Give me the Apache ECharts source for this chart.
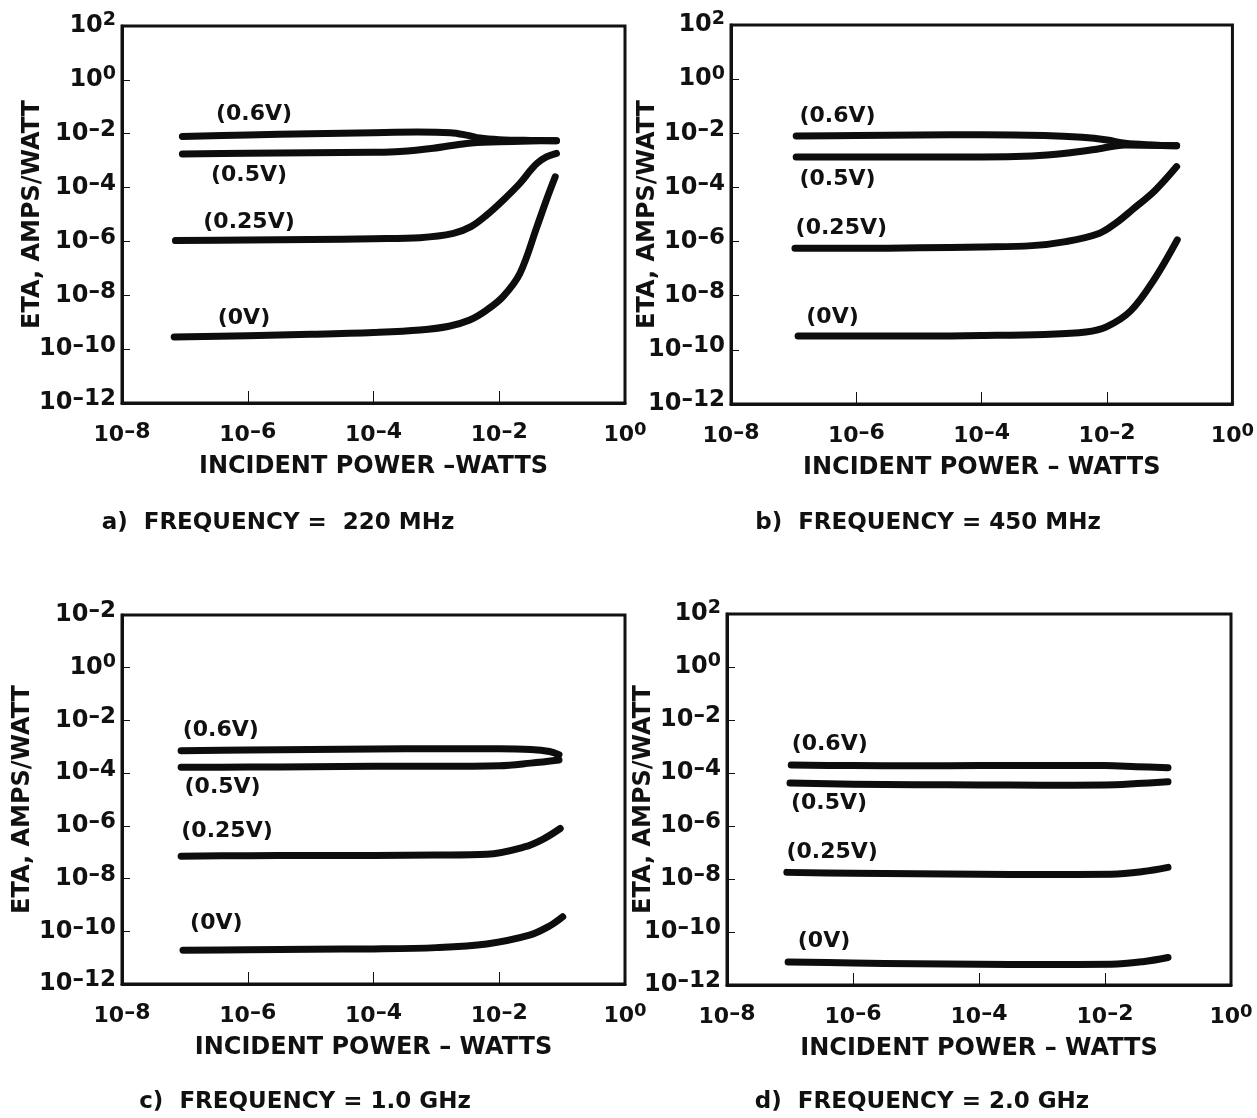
<!DOCTYPE html>
<html>
<head>
<meta charset="utf-8">
<script src="https://cdn.jsdelivr.net/npm/echarts@6/dist/echarts.min.js"></script>
<style>
  html, body { margin: 0; padding: 0; background: #fff; }
  #chart { width: 1257px; height: 1118px; }
</style>
</head>
<body>
<div id="chart"></div>
<script>
// values are log10 of the axes: [log10 incident power, log10 ETA]
var curveNames = ['(0.6V)', '(0.5V)', '(0.25V)', '(0V)'];

// a) 220 MHz
var a06 = [[-7.04,-2.1],[-6.0,-2.05],[-5.0,-2.0],[-4.0,-1.96],[-3.3,-1.94],[-2.78,-1.96],[-2.5,-2.06],[-2.31,-2.16],[-2.0,-2.22],[-1.5,-2.25],[-1.09,-2.26]];
var a05 = [[-7.04,-2.75],[-6.0,-2.73],[-5.0,-2.71],[-4.0,-2.69],[-3.58,-2.66],[-3.05,-2.54],[-2.52,-2.36],[-2.0,-2.3],[-1.5,-2.27],[-1.09,-2.26]];
var a025 = [[-7.15,-5.97],[-6.0,-5.95],[-5.0,-5.93],[-4.0,-5.9],[-3.26,-5.86],[-2.73,-5.7],[-2.45,-5.45],[-2.2,-5.02],[-1.93,-4.45],[-1.67,-3.84],[-1.5,-3.35],[-1.4,-3.1],[-1.25,-2.86],[-1.09,-2.73]];
var a0 = [[-7.17,-9.55],[-6.0,-9.5],[-5.0,-9.45],[-4.0,-9.38],[-3.26,-9.29],[-2.8,-9.15],[-2.47,-8.92],[-2.2,-8.55],[-1.94,-8.05],[-1.67,-7.18],[-1.4,-5.45],[-1.25,-4.46],[-1.11,-3.6]];

// b) 450 MHz
var b06 = [[-6.96,-2.1],[-6.0,-2.08],[-5.0,-2.06],[-4.0,-2.05],[-3.0,-2.08],[-2.4,-2.15],[-2.0,-2.25],[-1.71,-2.37],[-1.3,-2.43],[-0.89,-2.46]];
var b05 = [[-6.96,-2.88],[-6.0,-2.88],[-5.0,-2.88],[-4.0,-2.88],[-3.2,-2.84],[-2.66,-2.74],[-2.2,-2.6],[-1.71,-2.43],[-1.3,-2.44],[-0.89,-2.46]];
var b025 = [[-6.98,-6.25],[-6.0,-6.25],[-5.0,-6.23],[-4.0,-6.2],[-3.2,-6.15],[-2.66,-6.0],[-2.13,-5.7],[-1.85,-5.3],[-1.6,-4.83],[-1.23,-4.1],[-0.89,-3.23]];
var b0 = [[-6.93,-9.49],[-6.0,-9.49],[-5.0,-9.49],[-4.0,-9.47],[-3.0,-9.43],[-2.34,-9.34],[-2.01,-9.15],[-1.62,-8.55],[-1.24,-7.37],[-0.88,-5.94]];

// c) 1.0 GHz
var c06 = [[-7.06,-3.15],[-6.0,-3.12],[-5.0,-3.1],[-4.0,-3.08],[-3.0,-3.07],[-2.0,-3.07],[-1.5,-3.1],[-1.2,-3.18],[-1.05,-3.3]];
var c05 = [[-7.06,-3.78],[-6.0,-3.77],[-5.0,-3.76],[-4.0,-3.74],[-3.0,-3.74],[-2.0,-3.72],[-1.5,-3.62],[-1.05,-3.5]];
var c025 = [[-7.06,-7.15],[-6.0,-7.13],[-5.0,-7.12],[-4.0,-7.12],[-3.0,-7.11],[-2.2,-7.08],[-1.6,-6.8],[-1.3,-6.5],[-1.03,-6.1]];
var c0 = [[-7.03,-10.72],[-6.0,-10.7],[-5.0,-10.68],[-4.0,-10.67],[-3.0,-10.62],[-2.2,-10.48],[-1.52,-10.15],[-1.2,-9.8],[-0.99,-9.45]];

// d) 2.0 GHz
var d06 = [[-6.98,-3.7],[-6.0,-3.72],[-5.0,-3.73],[-4.0,-3.72],[-3.0,-3.72],[-2.0,-3.72],[-1.5,-3.76],[-1.0,-3.8]];
var d05 = [[-7.0,-4.38],[-6.0,-4.42],[-5.0,-4.44],[-4.0,-4.45],[-3.0,-4.46],[-2.0,-4.45],[-1.5,-4.4],[-1.0,-4.33]];
var d025 = [[-7.05,-7.75],[-6.0,-7.78],[-5.0,-7.8],[-4.0,-7.82],[-3.0,-7.83],[-1.9,-7.82],[-1.4,-7.72],[-1.0,-7.56]];
var d0 = [[-7.03,-11.13],[-6.0,-11.17],[-5.0,-11.2],[-4.0,-11.22],[-3.0,-11.23],[-1.9,-11.22],[-1.4,-11.12],[-1.0,-10.96]];

// tick label exponents (panel c top label is printed 10-2 in the original)
var xTickExp = ['–8', '–6', '–4', '–2', '0'];
var yTickExp = ['–12', '–10', '–8', '–6', '–4', '–2', '0', '2'];
var yTickExpC = ['–12', '–10', '–8', '–6', '–4', '–2', '0', '–2'];

var captions = ['a)  FREQUENCY =  220 MHz', 'b)  FREQUENCY = 450 MHz', 'c)  FREQUENCY = 1.0 GHz', 'd)  FREQUENCY = 2.0 GHz'];
var xNames = ['INCIDENT POWER –WATTS', 'INCIDENT POWER – WATTS', 'INCIDENT POWER – WATTS', 'INCIDENT POWER – WATTS'];
var yName = 'ETA, AMPS/WATT';

// where the curve labels sit, in axis units
var labelPosA = [[-5.9,-1.27],[-5.98,-3.55],[-5.98,-5.28],[-6.06,-8.87]];
var labelPosB = [[-6.3,-1.39],[-6.3,-3.7],[-6.24,-5.5],[-6.38,-8.8]];
var labelPosC = [[-6.43,-2.36],[-6.4,-4.52],[-6.33,-6.2],[-6.5,-9.7]];
var labelPosD = [[-6.37,-2.9],[-6.38,-5.13],[-6.33,-6.98],[-6.46,-10.34]];

var FONT = 'DejaVu Sans';
var INK = '#111';
var panels = [
  { rect: {left: 122, top: 26, width: 503, height: 377}, curves: [a06, a05, a025, a0], yExp: yTickExp, labels: labelPosA, cap: [278, 523], yGap: 77 },
  { rect: {left: 731, top: 25, width: 503, height: 379}, curves: [b06, b05, b025, b0], yExp: yTickExp, labels: labelPosB, cap: [928, 523], yGap: 71 },
  { rect: {left: 122, top: 615, width: 503, height: 369}, curves: [c06, c05, c025, c0], yExp: yTickExpC, labels: labelPosC, cap: [305, 1102], yGap: 87 },
  { rect: {left: 727, top: 614, width: 504, height: 371}, curves: [d06, d05, d025, d0], yExp: yTickExp, labels: labelPosD, cap: [922, 1102], yGap: 71 }
];

function expLabel(exp) {
  var neg = exp.charAt(0) === '–';
  return '{b|10}{' + (neg ? 'n' : 's') + '|' + exp + '}';
}

var richY = {
  b: { fontFamily: FONT, fontWeight: 'bold', fontSize: 24, lineHeight: 30, color: INK },
  n: { fontFamily: FONT, fontWeight: 'bold', fontSize: 23, lineHeight: 22, verticalAlign: 'top', color: INK },
  s: { fontFamily: FONT, fontWeight: 'bold', fontSize: 19, lineHeight: 16, verticalAlign: 'top', color: INK }
};
var richX = {
  b: { fontFamily: FONT, fontWeight: 'bold', fontSize: 22, lineHeight: 28, color: INK },
  n: { fontFamily: FONT, fontWeight: 'bold', fontSize: 22, lineHeight: 22, verticalAlign: 'top', color: INK },
  s: { fontFamily: FONT, fontWeight: 'bold', fontSize: 18, lineHeight: 16, verticalAlign: 'top', color: INK }
};

var grid = [], xAxis = [], yAxis = [], series = [], graphic = [];

panels.forEach(function (p, i) {
  grid.push({
    left: p.rect.left, top: p.rect.top, width: p.rect.width, height: p.rect.height,
    show: true, borderColor: INK, borderWidth: 3
  });
  xAxis.push({
    gridIndex: i, type: 'value', min: -8, max: 0, interval: 2,
    name: xNames[i], nameLocation: 'middle', nameGap: 52, nameMoveOverlap: false,
    nameTextStyle: { fontFamily: FONT, fontWeight: 'bold', fontSize: 24, color: INK },
    axisLine: { show: true, onZero: false, lineStyle: { color: INK, width: 3 } },
    axisTick: { show: true, inside: true, length: 12 },
    splitLine: { show: false },
    axisLabel: {
      margin: 18, rich: richX,
      formatter: function (v) { return expLabel(xTickExp[Math.round((v + 8) / 2)]); }
    }
  });
  yAxis.push({
    gridIndex: i, type: 'value', min: -12, max: 2, interval: 2,
    name: yName, nameLocation: 'middle', nameGap: p.yGap, nameRotate: 90, nameMoveOverlap: false,
    nameTextStyle: { fontFamily: FONT, fontWeight: 'bold', fontSize: 24, color: INK },
    axisLine: { show: true, onZero: false, lineStyle: { color: INK, width: 3 } },
    axisTick: { show: true, inside: true, length: 8 },
    splitLine: { show: false },
    axisLabel: {
      margin: 6, rich: richY,
      formatter: function (v) { return expLabel(p.yExp[Math.round((v + 12) / 2)]); }
    }
  });
  p.curves.forEach(function (c, k) {
    series.push({
      type: 'line', xAxisIndex: i, yAxisIndex: i, data: c,
      smooth: 0.35, showSymbol: false, symbol: 'none', silent: true, animation: false,
      lineStyle: { color: '#0d0d0d', width: 7, cap: 'round', join: 'round' },
      markPoint: {
        symbol: 'circle', symbolSize: 0, silent: true, animation: false,
        data: [{ coord: p.labels[k], value: curveNames[k] }],
        label: {
          show: true, position: 'inside', formatter: '{c}',
          fontFamily: FONT, fontWeight: 'bold', fontSize: 22, color: INK,
          textBorderWidth: 0
        }
      }
    });
  });
  graphic.push({
    type: 'text', x: p.cap[0], y: p.cap[1],
    style: {
      text: captions[i], fill: INK, align: 'center', verticalAlign: 'middle',
      font: 'bold 23px "DejaVu Sans"'
    }
  });
});

var chart = echarts.init(document.getElementById('chart'), null, { renderer: 'canvas' });
chart.setOption({
  backgroundColor: '#fff',
  animation: false,
  grid: grid,
  xAxis: xAxis,
  yAxis: yAxis,
  series: series,
  graphic: graphic
});
</script>
</body>
</html>
